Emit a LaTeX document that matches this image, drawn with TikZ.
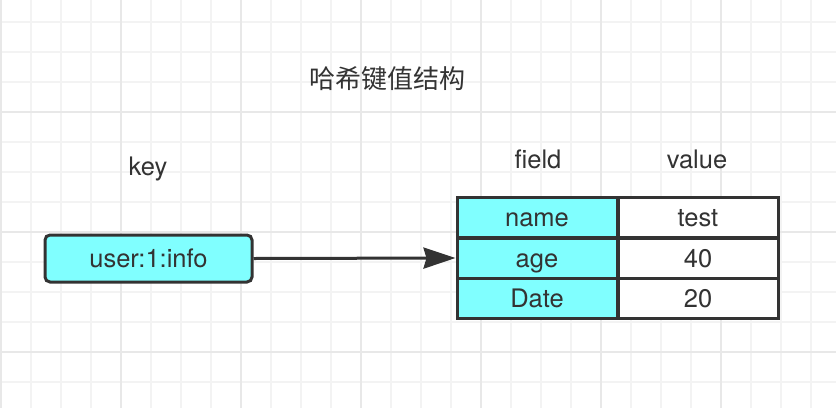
\documentclass[tikz,border=0pt]{standalone}
\usepackage{fontspec}
\setmainfont{TeX Gyre Heros}
\newfontfamily\cjk{Noto Sans CJK SC}
\usetikzlibrary{arrows.meta}
\definecolor{gridminor}{HTML}{F3F3F3}
\definecolor{gridmajor}{HTML}{E8E8E8}
\definecolor{cyanfill}{HTML}{80FFFF}
\definecolor{ink}{HTML}{333333}
\tikzset{
  cell/.style={draw=ink, line width=3pt, minimum width=160pt, minimum height=40pt,
    inner sep=0pt, text height=18pt, text depth=0pt, font=\fontsize{25.5}{28}\selectfont, text=ink},
  keycell/.style={cell, fill=cyanfill},
  valcell/.style={cell, fill=white},
  lbl/.style={anchor=base, font=\fontsize{25.5}{28}\selectfont, text=ink},
}
\begin{document}
\begin{tikzpicture}[x=1pt,y=-1pt]
\useasboundingbox (0,0) rectangle (836,408);
\fill[white] (0,0) rectangle (836,408);
% grid
\foreach \i in {0,...,27} \draw[gridminor, line width=2pt] ({1+30*\i},0) -- ({1+30*\i},408);
\foreach \j in {0,...,12} \draw[gridminor, line width=2pt] (0,{22+30*\j}) -- (836,{22+30*\j});
\foreach \i in {0,...,6} \draw[gridmajor, line width=2pt] ({1+120*\i},0) -- ({1+120*\i},408);
\foreach \j in {0,...,2} \draw[gridmajor, line width=2pt] (0,{112+120*\j}) -- (836,{112+120*\j});
% title and labels
\node[anchor=center, font=\cjk\fontsize{26}{30}\selectfont, text=ink] (title) at (387,79) {哈希键值结构};
\node[lbl] (keylbl) at (148,175) {key};
\node[lbl] (fieldlbl) at (538,168) {field};
\node[lbl] (valuelbl) at (697,168) {value};
% key node
\node[keycell, rounded corners=5pt, minimum width=207pt, minimum height=47pt] (key) at (148.5,258.5) {user:1:info};
% table
\node[keycell] (f1) at (537,217.5) {name};
\node[keycell] (f2) at (537,258) {age};
\node[keycell] (f3) at (537,298.5) {Date};
\node[valcell] (v1) at (698,217.5) {test};
\node[valcell] (v2) at (698,258) {40};
\node[valcell] (v3) at (698,298.5) {20};
% arrow
\draw[ink, line width=3pt, -{Stealth[length=32pt,width=21pt,inset=3pt]}] (key.east) -- (f2.west);
\end{tikzpicture}
\end{document}
